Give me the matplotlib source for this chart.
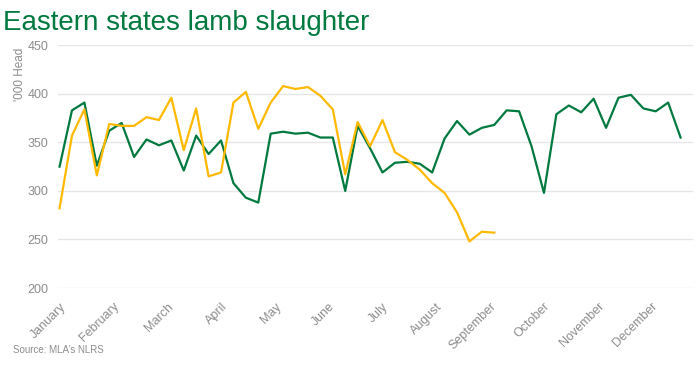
import matplotlib
matplotlib.use('Agg')
import matplotlib.pyplot as plt

# weekly slaughter, '000 head
green_vals = [325, 383, 391, 326, 362, 370, 335, 353, 347, 352, 321, 357, 338, 352, 308,
              293, 288, 359, 361, 359, 360, 355, 355, 300, 367, 344, 319, 329, 330, 328,
              319, 354, 372, 358, 365, 368, 383, 382, 346, 298, 379, 388, 381, 395, 365,
              396, 399, 385, 382, 391, 355]
yellow_vals = [282, 357, 384, 316, 369, 367, 367, 376, 373, 396, 342, 385, 315, 319, 391,
               402, 364, 391, 408, 405, 407, 398, 384, 317, 371, 346, 373, 340, 332, 322,
               308, 298, 278, 248, 258, 257]
months = ['January', 'February', 'March', 'April', 'May', 'June', 'July', 'August',
          'September', 'October', 'November', 'December']
y_ticks = [200, 250, 300, 350, 400, 450]

green = '#00793F'
yellow = '#FFB900'
grey = '#8C8C8C'

plt.rcParams['font.family'] = ['Liberation Sans', 'DejaVu Sans']

fig = plt.figure(figsize=(7, 3.66), dpi=100)
ax = fig.add_axes([0.0833, 0.2131, 0.9067, 0.6631])

ax.plot(range(len(green_vals)), green_vals, color=green, lw=1.6, zorder=3)
ax.plot(range(len(yellow_vals)), yellow_vals, color=yellow, lw=1.6, zorder=3)

ax.set_xlim(-0.1, 51)
ax.set_ylim(200, 450)
ax.set_yticks(y_ticks)
ax.set_xticks([i * 52 / 12 for i in range(12)])
ax.set_xticklabels(months, rotation=45, ha='right', va='top', rotation_mode='anchor')

ax.grid(axis='y', color='#E6E6E6', lw=1)
ax.set_axisbelow(True)
for s in ax.spines.values():
    s.set_visible(False)
ax.tick_params(axis='both', length=0, colors=grey, labelsize=9)
ax.tick_params(axis='y', pad=7)
ax.tick_params(axis='x', pad=9)

fig.text(0.004, 0.918, 'Eastern states lamb slaughter', color=green, fontsize=20,
         ha='left', va='baseline')
fig.text(0.028, 0.798, "'000 Head", color=grey, fontsize=8.5, rotation=90,
         ha='center', va='center')
fig.text(0.018, 0.035, "Source: MLA\u2019s NLRS", color=grey, fontsize=7,
         family=['Liberation Sans Narrow', 'Liberation Sans', 'DejaVu Sans'])

fig.savefig('out.png', dpi=100)
